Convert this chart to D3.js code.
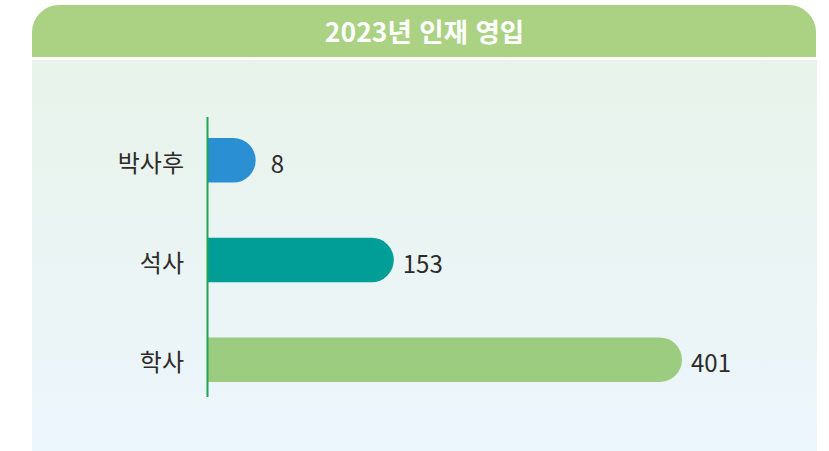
<!DOCTYPE html>
<html lang="ko">
<head>
<meta charset="utf-8">
<script src="https://cdn.jsdelivr.net/npm/d3@7"></script>
<style>
  html, body { margin: 0; padding: 0; background: #ffffff; }
  svg { display: block; font-family: "Noto Sans CJK KR", "Noto Sans", sans-serif; }
</style>
</head>
<body>
<svg id="chart" width="829" height="451"></svg>
<script>
// Data
const title = "2023년 인재 영입";
const categories = ["박사후", "석사", "학사"];
const values = [8, 153, 401];
const barColors = ["#2b8fd3", "#009e96", "#9ccc80"];

const W = 829, H = 451;
const svg = d3.select("#chart");

// Panel geometry
const panel = { left: 32, right: 817, headerTop: 5, headerBottom: 57, bodyTop: 60, radius: 27 };

const defs = svg.append("defs");
const grad = defs.append("linearGradient")
  .attr("id", "bodyFill").attr("x1", 0).attr("y1", 0).attr("x2", 0).attr("y2", 1);
grad.append("stop").attr("offset", "0%").attr("stop-color", "#e8f3ea");
grad.append("stop").attr("offset", "100%").attr("stop-color", "#ecf6fd");

// Body background
svg.append("rect")
  .attr("x", panel.left).attr("y", panel.bodyTop)
  .attr("width", panel.right - panel.left).attr("height", H - panel.bodyTop)
  .attr("fill", "url(#bodyFill)");

// Header with rounded top corners
{
  const l = panel.left, r = panel.right - 1, t = panel.headerTop, b = panel.headerBottom, rr = panel.radius;
  const p = d3.path();
  p.moveTo(l, b);
  p.lineTo(l, t + rr);
  p.arcTo(l, t, l + rr, t, rr);
  p.lineTo(r - rr, t);
  p.arcTo(r, t, r, t + rr, rr);
  p.lineTo(r, b);
  p.closePath();
  svg.append("path").attr("d", p.toString()).attr("fill", "#abd283");
}

svg.append("text")
  .attr("x", (panel.left + panel.right) / 2)
  .attr("y", 30)
  .attr("text-anchor", "middle")
  .attr("dominant-baseline", "central")
  .attr("fill", "#ffffff")
  .attr("font-size", 26.5)
  .attr("font-weight", 700)
  .text(title);

// Scales
const axisX = 207;
const y = d3.scaleBand()
  .domain(categories)
  .range([117, 403])
  .paddingInner(0.552)
  .paddingOuter(0.21);

const x = d3.scaleLinear()
  .domain([0, d3.max(values)])
  .range([axisX + 9, 682]);

const barH = y.bandwidth();
// shortest pill still shows its full rounded cap
const barEnd = v => Math.max(x(v), axisX + barH + 4);

function pill(x0, y0, x1, h) {
  const r = h / 2;
  const p = d3.path();
  p.moveTo(x0, y0);
  p.lineTo(x1 - r, y0);
  p.arc(x1 - r, y0 + r, r, -Math.PI / 2, Math.PI / 2);
  p.lineTo(x0, y0 + h);
  p.closePath();
  return p.toString();
}

const data = categories.map((c, i) => ({ c, v: values[i], color: barColors[i] }));

svg.append("g").selectAll("path")
  .data(data)
  .join("path")
  .attr("d", d => pill(axisX, y(d.c), barEnd(d.v), barH))
  .attr("fill", d => d.color);

// Axis line
svg.append("line")
  .attr("x1", axisX + 0.5).attr("x2", axisX + 0.5)
  .attr("y1", 117).attr("y2", 397)
  .attr("stroke", "#1fa64e").attr("stroke-width", 2);

// Category labels
svg.append("g").selectAll("text")
  .data(data)
  .join("text")
  .attr("x", 184)
  .attr("y", d => y(d.c) + barH / 2 + 1)
  .attr("text-anchor", "end")
  .attr("dominant-baseline", "central")
  .attr("fill", "#2e2a2a")
  .attr("font-size", 24)
  .text(d => d.c);

// Value labels
svg.append("g").selectAll("text")
  .data(data)
  .join("text")
  .attr("x", d => barEnd(d.v) + (d.v < 20 ? 15 : 9))
  .attr("y", d => y(d.c) + barH / 2 + 2)
  .attr("dominant-baseline", "central")
  .attr("fill", "#2e2a2a")
  .attr("font-size", 24)
  .text(d => d.v);
</script>
</body>
</html>
